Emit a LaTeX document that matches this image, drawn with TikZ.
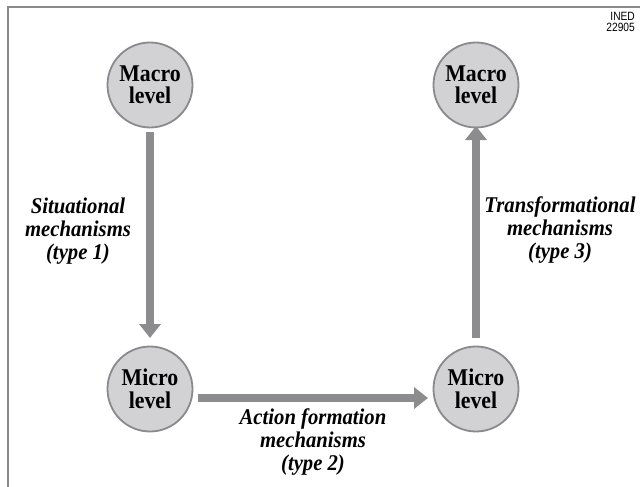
\documentclass[tikz,border=0pt]{standalone}
\usepackage{fontspec}
\setmainfont{Liberation Serif}
\newfontfamily\circfont[FakeStretch=0.91]{Liberation Serif}
\newfontfamily\mechfont[FakeStretch=0.92]{Liberation Serif}
\newfontfamily\inedfont[FakeStretch=0.85]{Liberation Sans}
\usetikzlibrary{arrows.meta}
\definecolor{frameg}{HTML}{8A8A8E}
\definecolor{circfill}{HTML}{D2D2D4}
\definecolor{arrowg}{HTML}{8C8C8E}
\tikzset{
  level/.style={circle, draw=frameg, line width=1.8pt, fill=circfill, minimum size=85pt, inner sep=0pt,
    font=\circfont\fontsize{24}{22.5}\selectfont\bfseries, align=center},
  mech/.style={font=\mechfont\fontsize{22.5}{23}\selectfont\bfseries\itshape, align=center},
  bigarrow/.style={draw=arrowg, line width=8pt, -{Triangle[width=21pt,length=14pt]}},
}
\begin{document}
\begin{tikzpicture}[x=1pt,y=-1pt]
\useasboundingbox (0,0) rectangle (640,487);
\draw[frameg, line width=2pt] (8,487) -- (8,7) -- (640,7);
\node[font=\inedfont\fontsize{12}{11}\selectfont, align=right, anchor=north east, inner sep=0pt] (ined) at (635,12) {INED\\22905};
\node[level] (m1) at (150,85) {Macro\\level};
\node[level] (m2) at (476,85) {Macro\\level};
\node[level] (u1) at (150,389) {Micro\\level};
\node[level] (u2) at (476,389) {Micro\\level};
\coordinate (a1s) at (150,132);
\coordinate (a1e) at (150,338);
\coordinate (a3s) at (476,338);
\coordinate (a3e) at (476,126);
\coordinate (a2s) at (198,398);
\coordinate (a2e) at (428,398);
\draw[bigarrow] (a1s) -- (a1e);
\draw[bigarrow] (a3s) -- (a3e);
\draw[bigarrow] (a2s) -- (a2e);
\node[mech] (l1) at (78,231) {Situational\\mechanisms\\(type 1)};
\node[mech] (l3) at (560,230) {Transformational\\mechanisms\\(type 3)};
\node[mech] (l2) at (313,442) {Action formation\\mechanisms\\(type 2)};
\end{tikzpicture}
\end{document}
